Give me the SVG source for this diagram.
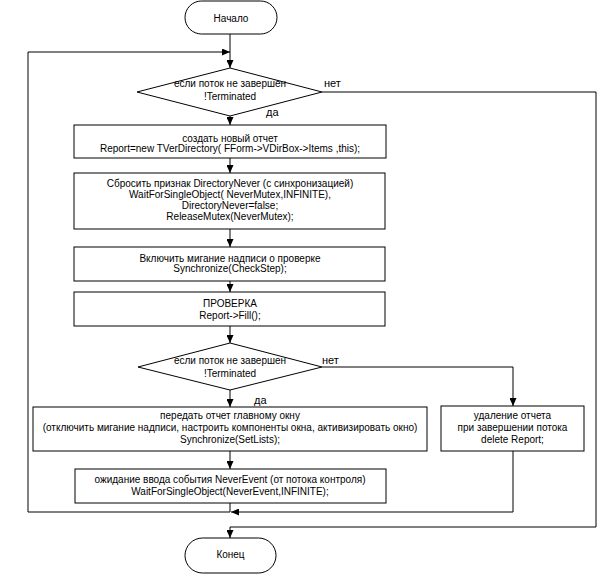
<svg xmlns="http://www.w3.org/2000/svg" width="600" height="577" viewBox="0 0 600 577">
<style>
.shape{fill:#fff;stroke:#000;stroke-width:1}
.t{font-family:"Liberation Sans",Arial,sans-serif;font-size:10px;fill:#000;text-anchor:middle}
.lbl{font-family:"Liberation Sans",Arial,sans-serif;font-size:11px;fill:#000}
.c{fill:none;stroke:#000;stroke-width:1}
</style>
<defs>
<marker id="ah" markerUnits="userSpaceOnUse" markerWidth="8" markerHeight="7" refX="8" refY="3.5" orient="auto">
<path d="M0,0 L8,3.5 L0,7 z" fill="#000"/>
</marker>
</defs>
<rect width="600" height="577" fill="#fff"/>
<g id="connectors">
<path class="c" d="M230,34 V68" marker-end="url(#ah)"/>
<path class="c" d="M230,116 V125" marker-end="url(#ah)"/>
<path class="c" d="M230,158 V173" marker-end="url(#ah)"/>
<path class="c" d="M230,229 V247" marker-end="url(#ah)"/>
<path class="c" d="M230,281 V292" marker-end="url(#ah)"/>
<path class="c" d="M230,326 V343" marker-end="url(#ah)"/>
<path class="c" d="M230,390 V407" marker-end="url(#ah)"/>
<path class="c" d="M322,367 H513 V406" marker-end="url(#ah)"/>
<path class="c" d="M230,451 V469" marker-end="url(#ah)"/>
<path class="c" d="M230,503 V512 H28 V52 H230" marker-end="url(#ah)"/>
<path class="c" d="M513,451 V512 H231" marker-end="url(#ah)"/>
<path class="c" d="M322,92 H596 V527 H230 V538" marker-end="url(#ah)"/>
<text class="lbl" x="324" y="87">нет</text>
<text class="lbl" x="266" y="116">да</text>
<text class="lbl" x="322" y="364">нет</text>
<text class="lbl" x="254" y="404">да</text>
</g>
<g id="start">
<rect class="shape" x="185" y="1" width="92" height="33" rx="16.5"/>
<text class="t" x="231" y="21.5">Начало</text>
</g>
<g id="cond1">
<polygon class="shape" points="230,68 322,92 230,116 137,92"/>
<text class="t" x="230" y="86.5">если поток не завершен</text>
<text class="t" x="230" y="100">!Terminated</text>
</g>
<g id="create">
<rect class="shape" x="74" y="125" width="312" height="33"/>
<text class="t" x="230" y="141.5">создать новый отчет</text>
<text class="t" x="230" y="152">Report=new TVerDirectory( FForm-&gt;VDirBox-&gt;Items ,this);</text>
</g>
<g id="reset">
<rect class="shape" x="74" y="173" width="311" height="56"/>
<text class="t" x="230" y="186.5">Сбросить признак DirectoryNever (с синхронизацией)</text>
<text class="t" x="230" y="197.5">WaitForSingleObject( NeverMutex,INFINITE),</text>
<text class="t" x="230" y="208.5">DirectoryNever=false;</text>
<text class="t" x="230" y="220">ReleaseMutex(NeverMutex);</text>
</g>
<g id="blink">
<rect class="shape" x="74" y="247" width="311" height="34"/>
<text class="t" x="230" y="261.5">Включить мигание надписи о проверке</text>
<text class="t" x="230" y="272">Synchronize(CheckStep);</text>
</g>
<g id="check">
<rect class="shape" x="74" y="292" width="311" height="34"/>
<text class="t" x="230" y="306.5">ПРОВЕРКА</text>
<text class="t" x="230" y="318.5">Report-&gt;Fill();</text>
</g>
<g id="cond2">
<polygon class="shape" points="230,343 322,367 230,390 138,367"/>
<text class="t" x="230" y="363.5">если поток не завершен</text>
<text class="t" x="230" y="376.5">!Terminated</text>
</g>
<g id="pass">
<rect class="shape" x="33" y="407" width="394" height="44"/>
<text class="t" x="230" y="418.5">передать отчет главному окну</text>
<text class="t" x="230" y="430.5">(отключить мигание надписи, настроить компоненты окна, активизировать окно)</text>
<text class="t" x="230" y="443">Synchronize(SetLists);</text>
</g>
<g id="delete">
<rect class="shape" x="441" y="406" width="143" height="45"/>
<text class="t" x="512.5" y="419">удаление отчета</text>
<text class="t" x="512.5" y="431">при завершении потока</text>
<text class="t" x="512.5" y="443">delete Report;</text>
</g>
<g id="wait">
<rect class="shape" x="75" y="469" width="311" height="34"/>
<text class="t" x="230" y="482.5">ожидание ввода события NeverEvent (от потока контроля)</text>
<text class="t" x="230" y="494.5">WaitForSingleObject(NeverEvent,INFINITE);</text>
</g>
<g id="end">
<rect class="shape" x="185" y="538" width="91" height="35" rx="17.5"/>
<text class="t" x="230.5" y="558">Конец</text>
</g>
</svg>
